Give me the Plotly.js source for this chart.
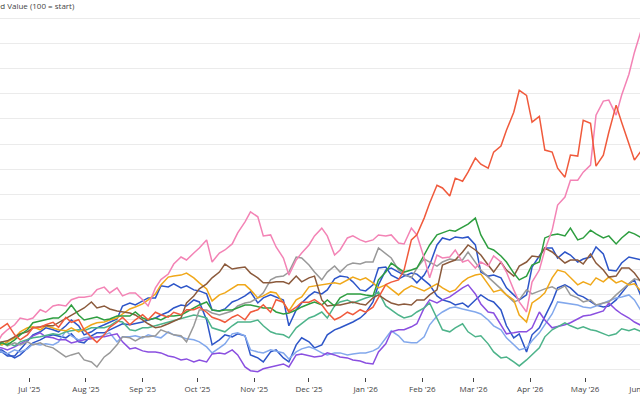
<!DOCTYPE html>
<html>
<head>
<meta charset="utf-8">
<script src="https://cdn.plot.ly/plotly-3.0.1.min.js"></script>
<style>
  html, body { margin: 0; padding: 0; overflow: hidden; width: 640px; height: 400px; background: #fff; }
  #chart { position: absolute; left: -60px; top: 0; width: 760px; height: 400px; }
</style>
</head>
<body>
<div id="chart"></div>
<script>
// ---- data (values sampled twice a week: Mondays and Thursdays) ----
const startMonday = '2025-06-02';
const weekCount = 53;
const monthTicks = ['2025-07-01', '2025-08-01', '2025-09-01', '2025-10-01', '2025-11-01', '2025-12-01',
  '2026-01-01', '2026-02-01', '2026-03-01', '2026-04-01', '2026-05-01', '2026-06-01'];

const red = [100, 101, 103, 105, 107, 108.5, 104, 102, 104, 106.8,
  107, 108, 109, 107, 111, 109, 110, 106, 103, 101,
  104, 107, 109, 111, 108, 110, 112, 110, 113, 112,
  111, 113, 112, 114, 114, 115, 113, 111, 110, 109,
  111, 112, 110, 113, 114, 116, 113, 118, 117, 113,
  115, 117, 117, 118, 116, 113, 110, 111, 113, 112,
  114, 113, 115, 118.7, 124, 125, 125.9, 129.8, 141.8, 143.8,
  150.5, 156.5, 163.6, 162.5, 159.3, 166.4, 165.2, 168.8, 174.4, 172,
  170.4, 176.8, 179.2, 185.5, 192.7, 201.4, 199.4, 188.7, 191, 177.6,
  176.8, 170.4, 166.8, 175.6, 175.2, 189.5, 188.3, 171.2, 175.6, 184.7,
  195.5, 188.7, 179.6, 173.6, 177.6, 176];

const pink = [100, 102, 101, 99, 104, 106, 108, 110.7, 110, 110.7,
  114, 113, 115.5, 116, 115.5, 118, 119, 119, 119.5, 122,
  123, 120.7, 122.7, 119.5, 120.7, 120.7, 118, 115.5, 122.7, 126,
  128.2, 132.2, 135, 133.8, 136.6, 138.6, 141.8, 133, 136.6, 137.8,
  140.2, 144.6, 149, 153, 151, 143.4, 143.8, 139, 134.6, 127.8,
  133.8, 136.6, 139.8, 143.4, 146.5, 143.4, 135.8, 137.8, 142.6, 143.4,
  141.8, 141, 141.8, 143.8, 143.4, 143.8, 140.6, 140.2, 146.5, 143.8,
  134.6, 126.7, 135.8, 134.6, 135, 137.8, 133, 133.8, 130.6, 133,
  131.4, 135.4, 133, 129, 121.9, 117.1, 113.1, 125, 129.8, 137.8,
  145.7, 155.7, 158.9, 165.6, 165.6, 168.8, 171.6, 191.5, 197.1, 197.5,
  191.5, 199.4, 207.8, 216.5, 226, 227];

const green = [100, 99.5, 100.5, 99, 100.8, 100, 102, 104, 106, 108.8,
  109.5, 110, 110.7, 110.7, 113.1, 115.9, 111.9, 109.9, 110.7, 111.1,
  109.9, 110.3, 111.5, 111.5, 111.5, 113.1, 110.7, 109.9, 110.7, 109.9,
  111.5, 111.5, 111.9, 113.1, 114.7, 115.9, 117.1, 113.9, 113.5, 113.9,
  113.9, 114.7, 115.9, 115.9, 115.1, 114.7, 114.7, 113.1, 112.3, 112.7,
  113.9, 115.1, 116.3, 117.1, 115.9, 117.9, 115.5, 118.7, 120.3, 120.3,
  120.3, 119.9, 119.5, 125.9, 129, 132.6, 130.6, 129, 129.8, 130.6,
  135.8, 139.8, 143.8, 144.6, 145.7, 145.3, 146.9, 148.1, 150.5, 143.8,
  138.6, 137.8, 135.4, 133, 128.6, 125.9, 127.4, 131.8, 133, 142.6,
  143.8, 144.2, 143.4, 146.5, 141.8, 142.6, 145.7, 144.2, 142.6, 143.4,
  140.2, 142.6, 145, 144.2, 142.6, 143];

const brown = [100, 100.5, 101, 100, 101.2, 101.6, 103.2, 104.4, 105.2, 106.8,
  107.2, 107.6, 107.6, 108.8, 110.7, 111.9, 113.5, 114.7, 117.1, 114.7,
  115.5, 114.3, 113.5, 113.1, 112.7, 111.9, 109.9, 108.4, 106.8, 107.2,
  108.4, 109.5, 110.7, 116.7, 119.5, 122.3, 124.3, 126.7, 129, 132.2,
  130.2, 130.6, 131, 128.6, 126.7, 124.7, 124.7, 125.1, 125.1, 124.3,
  127.4, 125.1, 126.7, 127.4, 117.9, 115.5, 115.9, 115.9, 116.7, 117.1,
  116.3, 115.9, 118.7, 119.9, 117.9, 116.7, 115.9, 116.3, 115.9, 117.9,
  117.9, 119.9, 121.9, 131.8, 133, 133.8, 137, 139.8, 137.8, 135.8,
  131.8, 129, 133, 129.8, 127.4, 131.4, 133, 135.4, 135, 138.6,
  137, 135, 132.6, 133.8, 133.8, 132.2, 136.2, 132.6, 129.8, 127,
  127.4, 130.6, 130.6, 128.6, 124.7, 124];

const grey = [100, 99, 101, 100.5, 101.2, 99.6, 100.8, 100, 101.2, 100,
  100.8, 99.6, 98.8, 97.2, 95.2, 96, 96.8, 94, 93.2, 91.2,
  95.2, 96.8, 100, 103.2, 102.8, 101.6, 103.2, 103.2, 103.6, 106,
  104.8, 104, 103.6, 101.2, 107.6, 113.9, 113.9, 112.7, 111.9, 112.7,
  113.5, 115.5, 116.7, 117.1, 118.7, 120.7, 125.9, 127, 127.4, 129,
  135, 134.6, 131.8, 129, 125.9, 129, 131.4, 129, 131.8, 132.6,
  132.2, 133, 133, 138.6, 136.2, 134.6, 129.8, 128.2, 126.7, 130.6,
  134.2, 133, 131.4, 133, 134.2, 133.8, 133.8, 137, 133, 129.8,
  127, 125.1, 122.3, 119.9, 117.1, 117.9, 121.9, 120.3, 121.5, 122.3,
  123.1, 121.9, 123.5, 119.9, 118.7, 117.1, 117.9, 115.9, 116.7, 117.1,
  119.9, 121.9, 124.7, 126.3, 125.5, 125];

const orange = [100, 101, 100.5, 101.5, 100, 101.2, 102.8, 105.2, 106.8, 107.2,
  106, 107.6, 106.8, 106, 105.6, 106.8, 105.2, 106.4, 108, 108.8,
  109.1, 109.9, 110.7, 112.3, 114.3, 115.1, 116.3, 117.9, 120.3, 123.9,
  127, 127.4, 127.8, 128.6, 126.7, 124.7, 122.3, 117.5, 119.9, 120.7,
  122.7, 123.9, 123.9, 121.9, 118.7, 119.5, 121.1, 120.7, 116.7, 113.5,
  117.9, 119.1, 123.1, 123.5, 123.9, 124.3, 124.7, 124.3, 125.9, 127,
  125.9, 126.7, 124.7, 122.7, 123.9, 122.3, 119.9, 121.9, 123.5, 122.7,
  121.5, 122.7, 124.3, 122.7, 121.1, 121.9, 125.1, 126.7, 127.8, 128.2,
  123.9, 121.1, 121.9, 119.9, 117.9, 111.9, 109.1, 116.7, 118.7, 120.7,
  126.7, 129.8, 129, 126.7, 123.9, 125.1, 123.9, 126.7, 125.1, 127,
  124.7, 125.5, 123.9, 124.3, 121.1, 121.5];

const teal = [100, 99.5, 99, 100, 100, 100.8, 99.6, 101.2, 102, 102.8,
  103.2, 103.6, 104.4, 104, 105.2, 105.6, 106, 105.6, 106.8, 106.8,
  106.8, 107.6, 109.5, 109.1, 106, 105.6, 106.8, 106.8, 107.6, 108.4,
  109.1, 109.9, 110.7, 111.1, 111.9, 111.5, 110.7, 106.8, 106, 105.2,
  107.6, 109.1, 109.1, 109.1, 109.9, 107.6, 105.2, 104.4, 104, 102.8,
  106.8, 108.4, 110.7, 111.5, 113.1, 110.7, 115.5, 117.1, 117.9, 116.7,
  117.9, 118.7, 119.5, 121.1, 115.5, 113.9, 111.9, 110.7, 111.5, 113.1,
  114.7, 116.7, 110.7, 106, 105.2, 106.8, 108.4, 105.2, 103.2, 103.6,
  100.4, 97.2, 94.8, 95.2, 93.2, 91.6, 94, 96, 98.8, 103.2,
  106, 107.2, 108.8, 107.6, 106.4, 107.2, 106, 105.6, 104.4, 103.6,
  104.4, 106.4, 105.6, 106.4, 105.2, 105.5];

const lightBlue = [100, 99, 98.5, 97.5, 97.2, 96.4, 98, 97.2, 98.4, 100.4,
  100, 100.4, 100, 101.2, 105.6, 103.6, 102, 102.8, 103.2, 102.8,
  104, 104.8, 101.2, 103.2, 103.2, 103.6, 102.8, 104, 103.2, 102.8,
  105.2, 104, 103.2, 102.4, 102, 101.2, 99.2, 96.8, 98.8, 100.4,
  104.4, 104.8, 103.6, 98, 97.2, 96.8, 98, 97.6, 96.8, 94.4,
  97.2, 98.4, 99.2, 98.4, 96.8, 96, 96.8, 96.8, 96, 96.4,
  96.8, 96.8, 97.6, 98.8, 102.8, 105.6, 103.6, 101.2, 100.8, 100.8,
  103.2, 108, 111.5, 113.1, 114.7, 115.1, 114.3, 113.9, 113.1, 112.3,
  109.9, 107.6, 106, 102.8, 100, 98, 98.8, 101.6, 104.8, 108,
  112.3, 117.1, 116.7, 116.3, 115.9, 115.1, 114.7, 115.5, 116.7, 117.5,
  118.7, 119.1, 119.9, 117.9, 113.1, 112];

const purple = [100, 99.5, 100, 99, 98.8, 98, 99.2, 100.4, 102, 103.6,
  104.8, 103.2, 102.8, 102, 102, 100.8, 101.6, 102, 102.4, 103.2,
  103.2, 103.6, 104.4, 101.2, 98.4, 98.8, 97.6, 97.2, 97.2, 96.8,
  95.6, 95.2, 94, 94.4, 93.2, 94, 93.2, 96.4, 96.8, 96.4,
  98, 96, 91.2, 89.7, 89.3, 90.5, 91.2, 91.6, 92.4, 91.2,
  96, 96.4, 95.6, 95.2, 95.6, 96.8, 96, 95.2, 94.8, 94,
  93.6, 92.8, 92.4, 97.2, 100.4, 105.2, 106, 106, 107.2, 108.4,
  114.7, 117.9, 116.7, 117.9, 119.1, 120.7, 122.7, 123.9, 120.3, 116.3,
  113.1, 112.7, 108, 104.4, 104.8, 105.2, 105.2, 106.8, 113.1, 109.9,
  106.8, 107.2, 108, 108.8, 110.3, 111.5, 111.9, 112.7, 113.5, 116.7,
  113.9, 112.3, 110.7, 109.1, 107.6, 107];

const blueA = [100, 99, 98, 97, 97.2, 95.6, 95.6, 98, 101.2, 104,
  105.2, 106.8, 106, 105.2, 107.6, 109.9, 107.6, 104, 105.2, 106.8,
  108, 109.1, 110.3, 115.5, 116.7, 115.9, 117.5, 118.7, 118.7, 123.5,
  123.1, 124.3, 122.7, 123.5, 121.9, 121.5, 120.3, 113.9, 113.5, 114.3,
  117.1, 117.9, 119.5, 121.1, 116.7, 118.7, 119.9, 119.1, 117.9, 107.6,
  113.9, 116.7, 119.5, 121.1, 120.3, 121.9, 126.3, 127.4, 127, 125.1,
  121.9, 121.5, 123.9, 130.6, 131, 127.8, 126.3, 127.4, 128.6, 128.2,
  125.9, 123.9, 119.5, 117.9, 117.1, 115.9, 116.7, 115.1, 117.9, 119.9,
  117.9, 117.1, 113.9, 107.6, 102.8, 104.4, 97.2, 104, 106.8, 111.5,
  117.1, 122.7, 123.9, 122.7, 119.9, 119.1, 117.1, 115.9, 115.1, 115.5,
  117.9, 120.7, 124.3, 125.9, 118.7, 118];

const blueB = [100, 99.5, 99, 98, 98, 96.4, 94.8, 96, 98.8, 100.8,
  102, 103.2, 104, 103.6, 102.8, 104.4, 101.2, 100.8, 103.6, 104.8,
  104.8, 106, 107.2, 108.4, 108, 108.4, 109.1, 109.9, 110.7, 111.9,
  113.1, 114.7, 115.9, 115.5, 117.9, 117.1, 109.9, 100, 102, 104,
  103.2, 104.4, 103.6, 96, 94.8, 93.2, 97.2, 98, 94.8, 93.2,
  100, 102.8, 101.2, 98.8, 100, 104, 106, 106.8, 108, 109.1,
  110.7, 112.7, 117.1, 123.9, 129.8, 130.6, 129, 127.8, 127, 124.7,
  127.8, 131.8, 139.8, 142.6, 141.8, 143, 142.6, 143, 139.8, 129,
  127.4, 127.8, 126.7, 122.7, 119.9, 117.9, 119.9, 131, 135.4, 138.6,
  138.6, 134.6, 137, 135.8, 133, 134.2, 135, 139, 136.2, 129.8,
  129.4, 132.6, 135, 134.6, 133.8, 134];

// ---- dates: Monday and Thursday of each week ----
function addDays(s, n) {
  const d = new Date(s + 'T00:00:00Z');
  d.setUTCDate(d.getUTCDate() + n);
  return d.toISOString().slice(0, 10);
}
const dates = [];
for (let i = 0; i < weekCount; i++) {
  dates.push(addDays(startMonday, 7 * i));
  dates.push(addDays(startMonday, 7 * i + 3));
}

const series = [
  {name: 'Blue A', y: blueA, color: '#2d55c8'},
  {name: 'Blue B', y: blueB, color: '#2d55c8'},
  {name: 'Light Blue', y: lightBlue, color: '#82a8ec'},
  {name: 'Purple', y: purple, color: '#8a4fe0'},
  {name: 'Teal', y: teal, color: '#4db38a'},
  {name: 'Grey', y: grey, color: '#999999'},
  {name: 'Orange', y: orange, color: '#f0a81a'},
  {name: 'Brown', y: brown, color: '#8b5a3c'},
  {name: 'Green', y: green, color: '#2e9e40'},
  {name: 'Pink', y: pink, color: '#f383b5'},
  {name: 'Red', y: red, color: '#f05a3c'}
];

const traces = series.map(s => ({
  type: 'scatter', mode: 'lines', name: s.name,
  x: dates, y: s.y,
  line: {color: s.color, width: 1.5},
  hoverinfo: 'skip'
}));

const layout = {
  width: 760, height: 400,
  margin: {l: 20, r: 40, t: 12, b: 23},
  paper_bgcolor: '#ffffff', plot_bgcolor: '#ffffff',
  showlegend: false,
  font: {family: '"Open Sans", verdana, arial, sans-serif', size: 8, color: '#444'},
  xaxis: {
    type: 'date',
    range: ['2025-05-24 02:24', '2026-06-11'],
    tickmode: 'array', tickvals: monthTicks,
    tickformat: "%b '%y",
    ticks: 'outside', ticklen: 4, tickcolor: '#444', tickwidth: 1,
    showgrid: false, zeroline: false, showline: false,
    tickfont: {size: 8, color: '#444'}
  },
  yaxis: {
    range: [87.2, 232.6],
    tick0: 0, dtick: 10,
    showgrid: true, gridcolor: '#ebebeb', gridwidth: 1,
    zeroline: false, showline: false, ticks: '',
    showticklabels: false
  },
  annotations: [{
    xref: 'paper', yref: 'paper', x: 0, y: 1,
    xanchor: 'left', yanchor: 'bottom', yshift: -1,
    text: 'Normalized Value (100 = start)',
    showarrow: false,
    font: {size: 8, color: '#444'}
  }]
};

Plotly.newPlot('chart', traces, layout, {staticPlot: true, displayModeBar: false});
</script>
</body>
</html>
